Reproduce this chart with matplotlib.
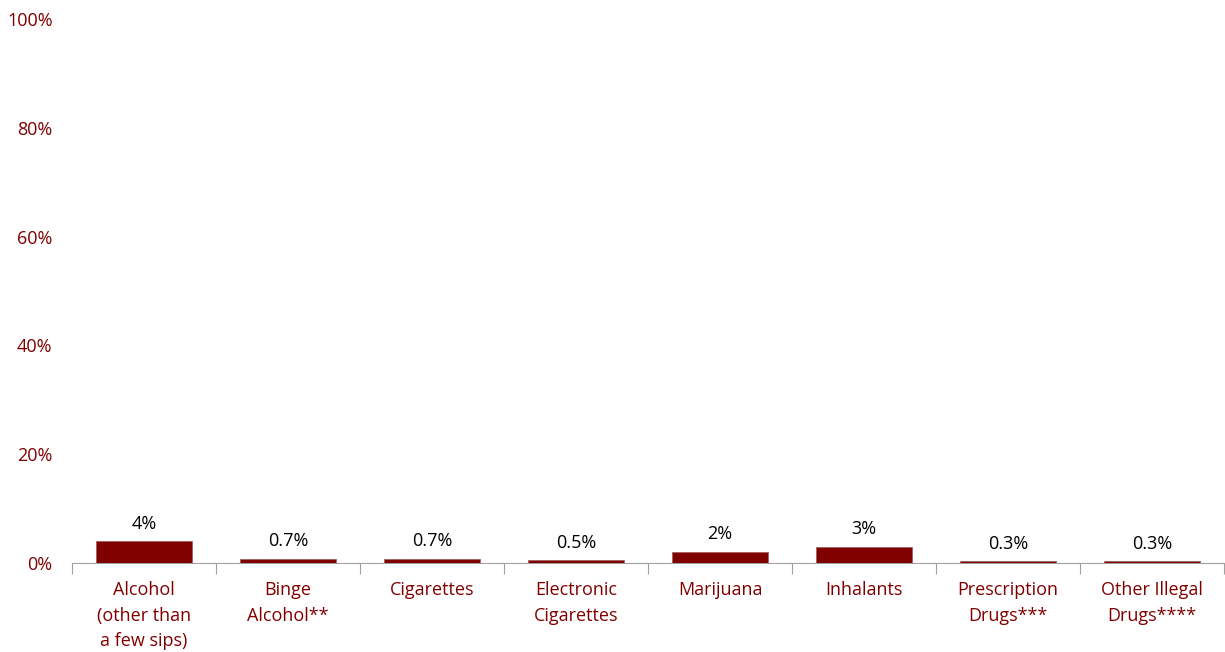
import matplotlib.pyplot as plt

categories = ["Alcohol\n(other than\na few sips)", "Binge\nAlcohol**", "Cigarettes",
              "Electronic\nCigarettes", "Marijuana", "Inhalants",
              "Prescription\nDrugs***", "Other Illegal\nDrugs****"]
values = [4, 0.7, 0.7, 0.5, 2, 3, 0.3, 0.3]
value_labels = ["4%", "0.7%", "0.7%", "0.5%", "2%", "3%", "0.3%", "0.3%"]
yticks = [0, 20, 40, 60, 80, 100]

red = "#800000"
plt.rcParams['font.family'] = ['Open Sans', 'DejaVu Sans']

fig = plt.figure(figsize=(12.25, 6.52), dpi=100)
ax = fig.add_axes([72 / 1225, 89 / 652, 1152 / 1225, 544 / 652])

x = range(len(categories))
ax.bar(x, values, width=0.67, color=red, edgecolor="#a06060", linewidth=0.6, zorder=3)
for xi, v, lab in zip(x, values, value_labels):
    ax.text(xi, v + 1.6, lab, ha="center", va="bottom", fontsize=13, color="black")

ax.set_xlim(-0.5, len(categories) - 0.5)
ax.set_ylim(0, 100)
ax.set_yticks(yticks)
ax.set_yticklabels([f"{t}%" for t in yticks], color=red, fontsize=13)
ax.tick_params(axis="y", length=0, pad=14)

ax.set_xticks(list(x))
ax.set_xticklabels(categories, color=red, fontsize=13, linespacing=1.55)
ax.tick_params(axis="x", length=0, pad=13)
ax.set_xticks([i - 0.5 for i in range(len(categories) + 1)], minor=True)
ax.tick_params(axis="x", which="minor", length=8, color="#a0a0a0", width=0.8)

for s in ["top", "right", "left"]:
    ax.spines[s].set_visible(False)
ax.spines["bottom"].set_color("#a0a0a0")
ax.spines["bottom"].set_linewidth(0.8)

fig.savefig("out.png", dpi=100)
